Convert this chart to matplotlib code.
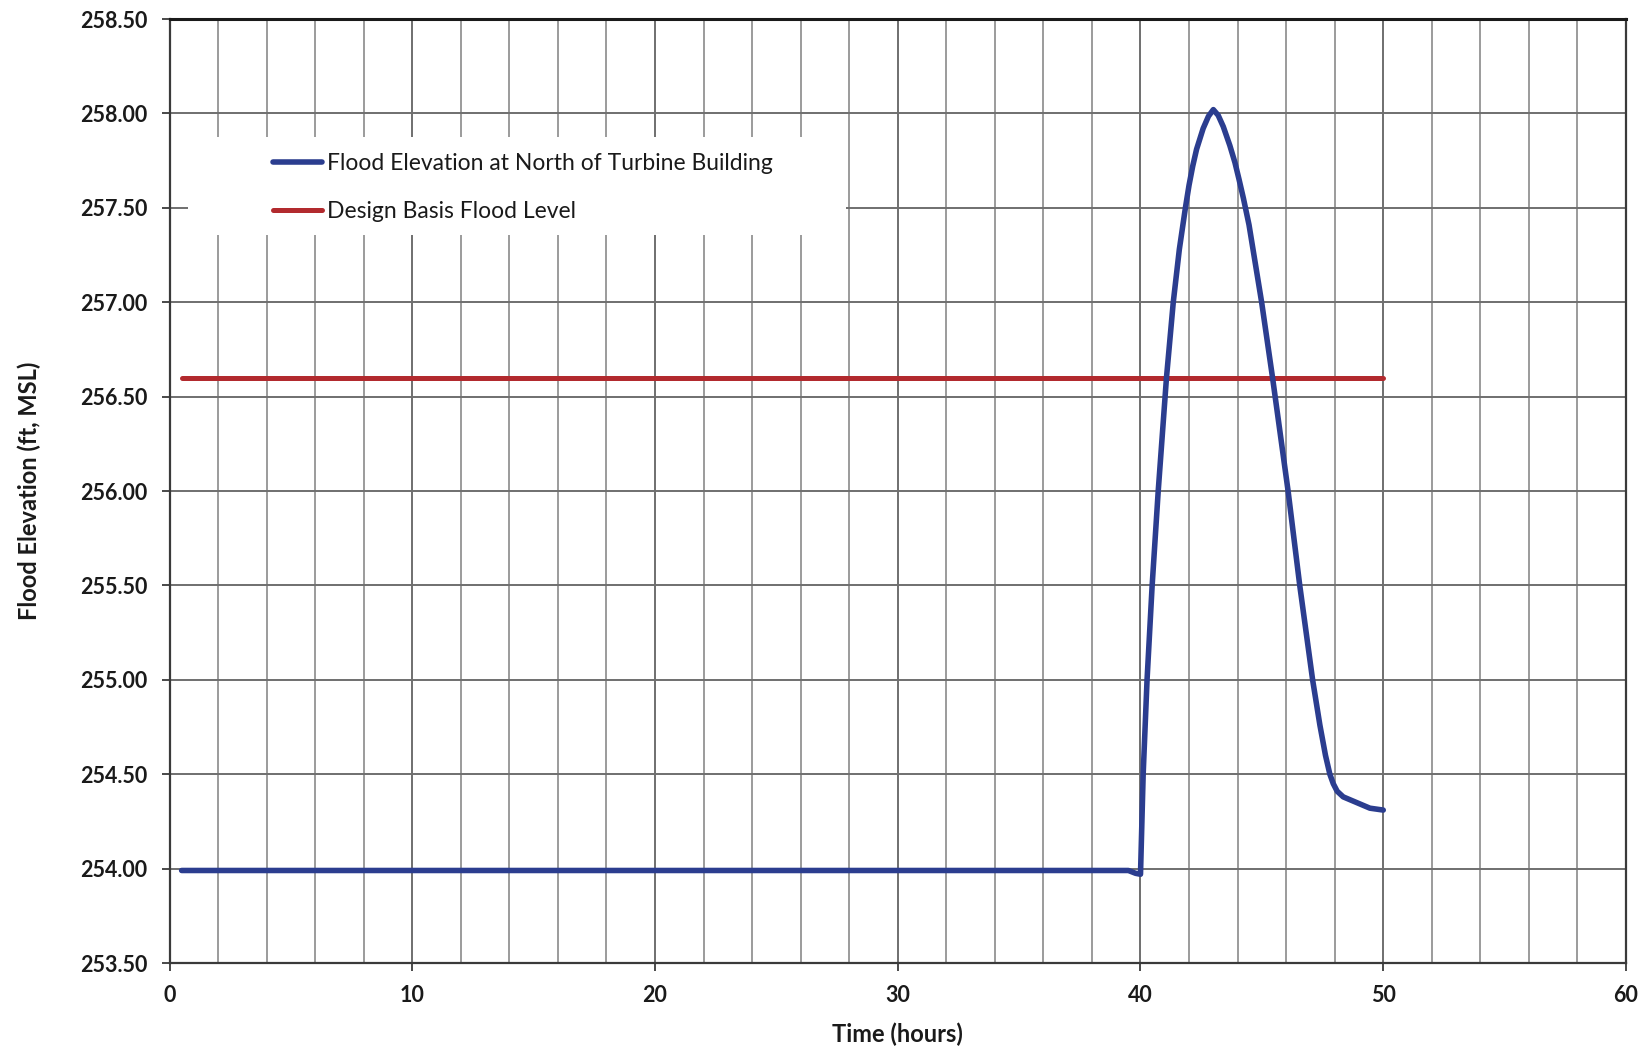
import matplotlib
matplotlib.use("Agg")
import matplotlib.pyplot as plt
from matplotlib.patches import Rectangle
from matplotlib.ticker import MultipleLocator, FormatStrFormatter

plt.rcParams['font.family'] = ['Lato', 'DejaVu Sans']

# Flood hydrograph at the north side of the turbine building
time_hours = [0.5, 5, 10, 15, 20, 25, 30, 35, 39.5, 39.8, 40.0,
              40.11, 40.27, 40.48, 40.73, 41.07, 41.35, 41.6, 41.85, 42.0, 42.15,
              42.31, 42.58, 42.8, 43.0, 43.2, 43.41, 43.68, 43.89, 44.06, 44.24,
              44.47, 44.99, 45.44,
              46.08, 46.56, 47.09, 47.39, 47.62, 47.8, 47.94, 48.1, 48.35,
              48.9, 49.45, 50.0]
flood_elev = [253.99, 253.99, 253.99, 253.99, 253.99, 253.99, 253.99, 253.99,
              253.99, 253.975, 253.97,
              254.5, 255.0, 255.5, 256.0, 256.6, 257.0, 257.28, 257.5, 257.62, 257.72,
              257.81, 257.92, 257.985, 258.02, 257.99, 257.93, 257.83, 257.74, 257.65, 257.55,
              257.41, 257.0, 256.6,
              256.0, 255.5, 255.0, 254.76, 254.6, 254.5, 254.45, 254.41, 254.38,
              254.35, 254.32, 254.31]

# Design basis flood level over the same period
dbfl_time = [0.5, 50.0]
dbfl_elev = [256.6, 256.6]

series_labels = ["Flood Elevation at North of Turbine Building",
                 "Design Basis Flood Level"]

fig = plt.figure(figsize=(16.5, 10.5), dpi=100)
ax = fig.add_axes([169.5 / 1650, 1 - 963 / 1050, (1626 - 169.5) / 1650, (963 - 19) / 1050])

grid_color = "#8a8a8a"
ax.set_xlim(0, 60)
ax.set_ylim(253.5, 258.5)
ax.xaxis.set_major_locator(MultipleLocator(10))
ax.xaxis.set_minor_locator(MultipleLocator(2))
ax.yaxis.set_major_locator(MultipleLocator(0.5))
ax.yaxis.set_major_formatter(FormatStrFormatter("%.2f"))

ax.grid(True, which="major", axis="both", color="#6f6f6f", linewidth=1.4)
ax.grid(True, which="minor", axis="x", color=grid_color, linewidth=1.2)
ax.set_axisbelow(True)

for side in ["left", "bottom", "top", "right"]:
    ax.spines[side].set_color("#3a3a3a")
    ax.spines[side].set_linewidth(1.6)
ax.spines["top"].set_color("#1a1a1a")
ax.spines["top"].set_linewidth(2.2)

ax.tick_params(axis="both", which="major", direction="out", length=6,
               width=1.3, color="#3a3a3a", labelsize=15.5, pad=10)
ax.tick_params(axis="x", which="minor", length=0)
for lbl in ax.get_xticklabels() + ax.get_yticklabels():
    lbl.set_fontweight("bold")
    lbl.set_color("#1a1a1a")

ax.set_xlabel("Time (hours)", fontsize=17, fontweight="bold", color="#1a1a1a", labelpad=12)
ax.set_ylabel("Flood Elevation (ft, MSL)", fontsize=17, fontweight="bold", color="#1a1a1a", labelpad=28)

l1, = ax.plot(time_hours, flood_elev, color="#2b3d8f", linewidth=4.0,
              solid_capstyle="round", solid_joinstyle="round", zorder=4)
l2, = ax.plot(dbfl_time, dbfl_elev, color="#b22a2e", linewidth=3.6,
              solid_capstyle="round", zorder=3)

# White panel behind the legend entries
fig.patches.append(Rectangle((188 / 1650, 1 - 235 / 1050), (846 - 188) / 1650, (235 - 137) / 1050,
                             transform=fig.transFigure, facecolor="white", edgecolor="none", zorder=2))

leg = fig.legend([l1, l2], series_labels, loc="upper left",
                 bbox_to_anchor=(262 / 1650, 1 - 142 / 1050), frameon=False,
                 fontsize=16.5, handlelength=2.1, handletextpad=0.25,
                 labelspacing=1.15, borderpad=0.0)
for t in leg.get_texts():
    t.set_color("#1a1a1a")

fig.savefig("out.png", dpi=100, facecolor="white")
